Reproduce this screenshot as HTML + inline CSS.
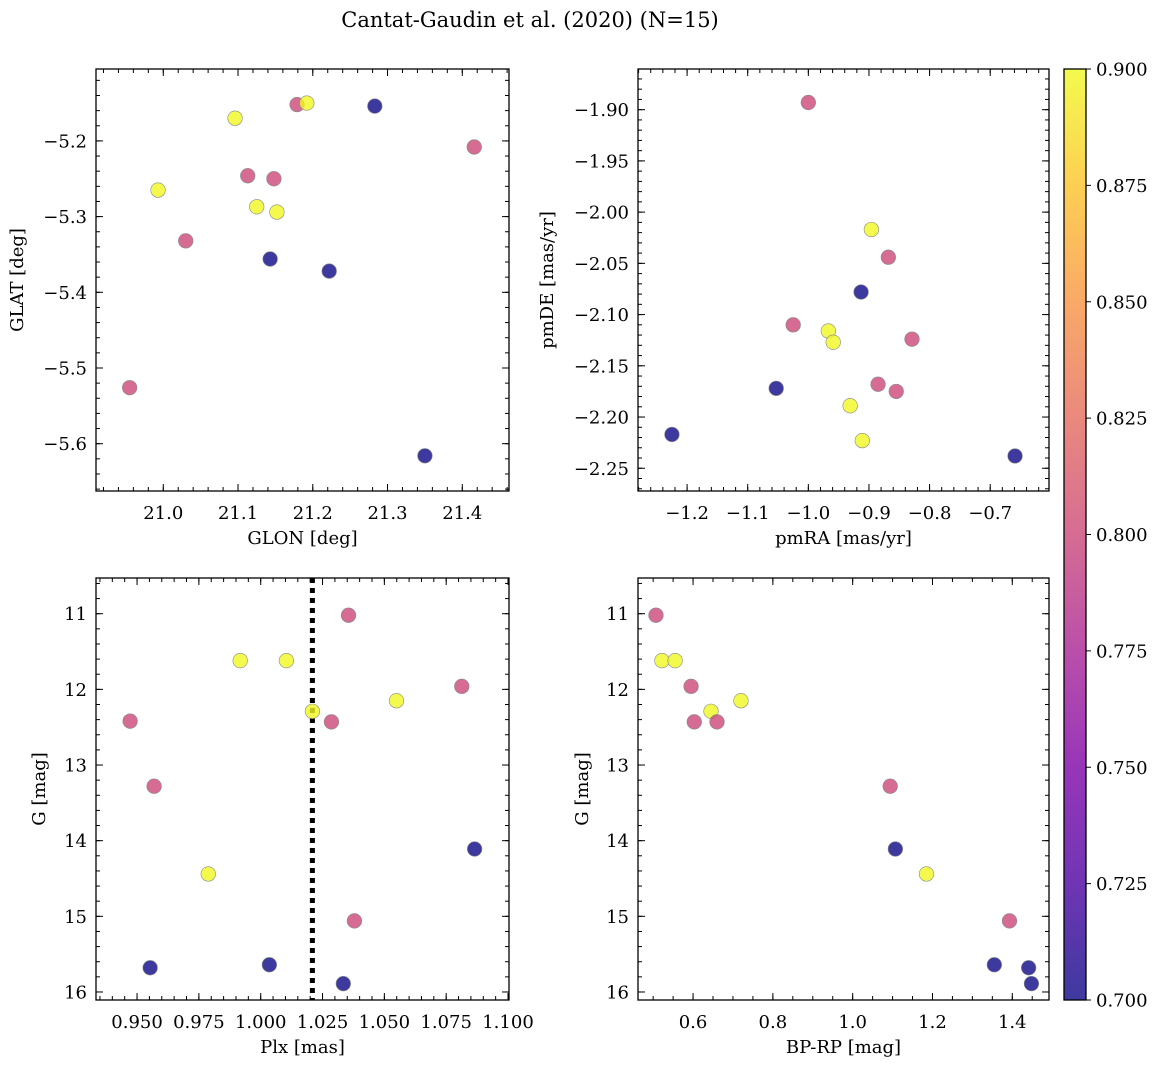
<!DOCTYPE html>
<html><head><meta charset="utf-8"><style>
body{margin:0;background:#fff;}
svg text{font-family:"DejaVu Serif","Liberation Serif",serif;fill:#000;}
</style></head><body>
<svg id="fig" width="1161" height="1068" viewBox="0 0 1161 1068" xmlns="http://www.w3.org/2000/svg">
<defs>
<linearGradient id="plasma" x1="0" y1="1" x2="0" y2="0">
<stop offset="0" stop-color="#0d0887"/><stop offset="0.125" stop-color="#4c02a1"/><stop offset="0.25" stop-color="#7e03a8"/><stop offset="0.375" stop-color="#a92395"/><stop offset="0.5" stop-color="#cc4778"/><stop offset="0.625" stop-color="#e56b5d"/><stop offset="0.75" stop-color="#f89441"/><stop offset="0.875" stop-color="#fdc328"/><stop offset="1" stop-color="#f0f921"/>
</linearGradient>
</defs>
<text x="530" y="27" font-size="21" text-anchor="middle">Cantat-Gaudin et al. (2020) (N=15)</text>
</svg>
<script>
// ---- data ----
const memb = [0.8,0.9,0.8,0.9,0.8,0.9,0.7,0.8,0.9,0.8,0.9,0.7,0.7,0.7,0.8];
const glon = [20.955,20.993,21.030,21.096,21.113,21.125,21.143,21.148,21.152,21.179,21.192,21.222,21.283,21.350,21.416];
const glat = [-5.526,-5.265,-5.332,-5.170,-5.246,-5.287,-5.356,-5.250,-5.294,-5.152,-5.150,-5.372,-5.154,-5.616,-5.208];
const memb2 = [0.8,0.9,0.8,0.7,0.8,0.9,0.9,0.8,0.8,0.8,0.7,0.9,0.9,0.7,0.7];
const pmra = [-1.000,-0.896,-0.868,-0.913,-1.025,-0.967,-0.959,-0.829,-0.885,-0.855,-1.053,-0.931,-0.911,-1.225,-0.659];
const pmde = [-1.893,-2.017,-2.044,-2.078,-2.110,-2.116,-2.127,-2.124,-2.168,-2.175,-2.172,-2.189,-2.223,-2.217,-2.238];
const memb3 = [0.8,0.8,0.7,0.9,0.9,0.7,0.9,0.9,0.8,0.7,0.8,0.8,0.9,0.8,0.7];
const plx = [0.9472,0.9569,0.9553,0.9788,0.9917,1.0035,1.0104,1.0209,1.0286,1.0334,1.0355,1.0379,1.0549,1.0813,1.0865];
const gmag3 = [12.42,13.28,15.68,14.44,11.62,15.64,11.62,12.29,12.43,15.89,11.02,15.06,12.15,11.96,14.11];
const memb4 = [0.8,0.9,0.9,0.8,0.8,0.9,0.8,0.9,0.8,0.7,0.9,0.8,0.7,0.7,0.7];
const bprp = [0.507,0.522,0.555,0.595,0.603,0.645,0.660,0.720,1.094,1.107,1.185,1.393,1.355,1.441,1.448];
const gmag4 = [11.02,11.62,11.62,11.96,12.43,12.29,12.43,12.15,13.28,14.11,14.44,15.06,15.64,15.68,15.89];
const plxMean = [1.0209];
const cbTicks = [0.700,0.725,0.750,0.775,0.800,0.825,0.850,0.875,0.900];

const NS="http://www.w3.org/2000/svg";
const svg=document.getElementById('fig');
function el(tag,attrs,parent){const e=document.createElementNS(NS,tag);for(const k in attrs)e.setAttribute(k,attrs[k]);(parent||svg).appendChild(e);return e;}
const stops=[[0,[13,8,135]],[0.125,[76,2,161]],[0.25,[126,3,168]],[0.375,[169,35,149]],[0.5,[204,71,120]],[0.625,[229,107,93]],[0.75,[248,148,65]],[0.875,[253,195,40]],[1,[240,249,33]]];
function plasma(t){t=Math.max(0,Math.min(1,t));for(let i=1;i<stops.length;i++){if(t<=stops[i][0]){const a=stops[i-1],b=stops[i];const f=(t-a[0])/(b[0]-a[0]);const c=a[1].map((v,j)=>Math.round(v+(b[1][j]-v)*f));return `rgb(${c})`;}}return 'rgb(240,249,33)';}
function cnorm(v){return (v-0.7)/0.2;}

function panel(o){
  const g=el('g',{});
  
  
  const sx=v=>o.x0+(v-o.xmin)/(o.xmax-o.xmin)*(o.x1-o.x0);
  const sy=v=>o.inv? o.y0+(v-o.ymin)/(o.ymax-o.ymin)*(o.y1-o.y0) : o.y1-(v-o.ymin)/(o.ymax-o.ymin)*(o.y1-o.y0);
  const tg=el('g',{stroke:'#000','stroke-width':1},g);
  function ticks(lo,hi,step,isX,len,label,dec){
    const n0=Math.ceil(lo/step-1e-6),n1=Math.floor(hi/step+1e-6);
    for(let n=n0;n<=n1;n++){const v=n*step;
      if(isX){const x=sx(v);el('line',{x1:x,y1:o.y1,x2:x,y2:o.y1-len},tg);el('line',{x1:x,y1:o.y0,x2:x,y2:o.y0+len},tg);
        if(label){const t=el('text',{x:x,y:o.y1+28,'font-size':18,'text-anchor':'middle'},g);t.textContent=fmt(v,dec);
          }}
      else{const y=sy(v);el('line',{x1:o.x0,y1:y,x2:o.x0+len,y2:y},tg);el('line',{x1:o.x1,y1:y,x2:o.x1-len,y2:y},tg);
        if(label){const t=el('text',{x:o.x0-9,y:y+6.5,'font-size':18,'text-anchor':'end'},g);t.textContent=fmt(v,dec);
          }}
    }
  }
  function fmt(v,d){let s=Math.abs(v).toFixed(d);return (v< -1e-9?'\u2212':'')+s;}
  ticks(o.xmin,o.xmax,o.xminor,true,4,false);
  ticks(o.xmin,o.xmax,o.xmajor,true,7,true,o.xdec);
  ticks(o.ymin,o.ymax,o.yminor,false,4,false);
  ticks(o.ymin,o.ymax,o.ymajor,false,7,true,o.ydec);
  if(o.vline){o.vline.forEach(v=>{const l=el('line',{x1:sx(v),x2:sx(v),y1:o.y0,y2:o.y1,stroke:'#000','stroke-width':5,'stroke-dasharray':'5,5'},g);
    });}
  o.xs.forEach((xv,i)=>{const c=el('circle',{cx:sx(xv),cy:sy(o.ys[i]),r:7.3,fill:plasma(cnorm(o.cs[i])),'fill-opacity':0.8,stroke:'#888','stroke-width':0.6},g);
    });
  const fr=el('rect',{x:o.x0,y:o.y0,width:o.x1-o.x0,height:o.y1-o.y0,fill:'none',stroke:'#000','stroke-width':1.3},g);
  
  const xl=el('text',{x:(o.x0+o.x1)/2,y:o.y1+53,'font-size':18,'text-anchor':'middle'},g);xl.textContent=o.xlabel;
  
  const cy=(o.y0+o.y1)/2;
  const yl=el('text',{x:o.ylx,y:cy,'font-size':18,'text-anchor':'middle',transform:`rotate(-90 ${o.ylx} ${cy})`},g);yl.textContent=o.ylabel;
  
}

panel({name:'glon-glat-panel',x0:96,x1:509,y0:69,y1:491,xmin:20.910,xmax:21.4625,ymin:-5.6625,ymax:-5.105,xmajor:0.1,xminor:0.02,ymajor:0.1,yminor:0.02,xdec:1,ydec:1,xs:glon,ys:glat,cs:memb,xlabel:'GLON [deg]',ylabel:'GLAT [deg]',ylx:23});
panel({name:'proper-motion-panel',x0:638,x1:1049,y0:69,y1:491,xmin:-1.281,xmax:-0.603,ymin:-2.2722,ymax:-1.8603,xmajor:0.1,xminor:0.02,ymajor:0.05,yminor:0.01,xdec:1,ydec:2,xs:pmra,ys:pmde,cs:memb2,xlabel:'pmRA [mas/yr]',ylabel:'pmDE [mas/yr]',ylx:553});
panel({name:'parallax-panel',x0:96,x1:509,y0:578,y1:1000,xmin:0.9334,xmax:1.1004,ymin:10.528,ymax:16.106,inv:true,xmajor:0.025,xminor:0.005,ymajor:1,yminor:0.2,xdec:3,ydec:0,xs:plx,ys:gmag3,cs:memb3,xlabel:'Plx [mas]',ylabel:'G [mag]',ylx:45,vline:plxMean});
panel({name:'cmd-panel',x0:638,x1:1049,y0:578,y1:1000,xmin:0.462,xmax:1.492,ymin:10.528,ymax:16.106,inv:true,xmajor:0.2,xminor:0.05,ymajor:1,yminor:0.2,xdec:1,ydec:0,xs:bprp,ys:gmag4,cs:memb4,xlabel:'BP-RP [mag]',ylabel:'G [mag]',ylx:588});

// colorbar
const cb=el('g',{});


const cx0=1064,cx1=1086,cy0=69,cy1=1000;
el('rect',{x:cx0,y:cy0,width:cx1-cx0,height:cy1-cy0,fill:'url(#plasma)','fill-opacity':0.8},cb);
el('rect',{x:cx0,y:cy0,width:cx1-cx0,height:cy1-cy0,fill:'none',stroke:'#000','stroke-width':1.3},cb);
const cby=v=>cy1-(v-0.7)/0.2*(cy1-cy0);
cbTicks.forEach(v=>{const y=cby(v);el('line',{x1:cx1,x2:cx1+5,y1:y,y2:y,stroke:'#000','stroke-width':1},cb);
  const t=el('text',{x:cx1+10,y:y+6.5,'font-size':18},cb);t.textContent=v.toFixed(3);
  });
</script>
</body></html>
